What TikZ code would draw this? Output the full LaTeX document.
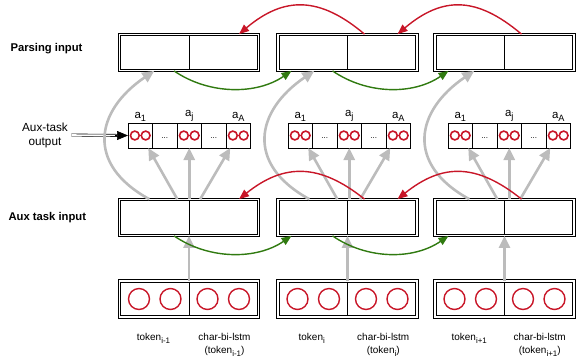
\documentclass[tikz,border=0pt]{standalone}
\usepackage{fontspec}
\setmainfont{Liberation Sans}
\usetikzlibrary{positioning,arrows.meta}

\definecolor{linkred}{RGB}{200,22,40}
\definecolor{linkgreen}{RGB}{48,122,16}
\definecolor{linkgray}{RGB}{188,188,188}

\newcommand\idx[1]{\raisebox{-0.5ex}{\scalebox{0.8}{#1}}}

\tikzset{
  box/.style={draw, double, double distance=1.6bp, line width=0.75bp,
    minimum width=139bp, minimum height=36bp, inner sep=0pt},
  units/.style={box, path picture={
      \draw[linkred, line width=1.4bp]
        ([xshift=-50bp]path picture bounding box.center) circle (10.5bp)
        ([xshift=-18.5bp]path picture bounding box.center) circle (10.5bp)
        ([xshift=18.5bp]path picture bounding box.center) circle (10.5bp)
        ([xshift=50bp]path picture bounding box.center) circle (10.5bp);}},
  cell/.style={draw, line width=0.75bp, minimum width=24.5bp, minimum height=25bp,
    inner sep=0pt, outer sep=0pt, text height=5bp, text depth=0pt,
    font=\fontsize{8}{8}\selectfont},
  pair/.style={cell, path picture={
      \draw[linkred, line width=1.6bp]
        ([xshift=-5.4bp]path picture bounding box.center) circle (4.4bp)
        ([xshift=5.4bp]path picture bounding box.center) circle (4.4bp);}},
  split/.style={line width=0.75bp, shorten <=1.15bp, shorten >=1.15bp},
  head/.style={font=\fontsize{11.3}{13}\selectfont\bfseries, anchor=west},
  note/.style={font=\fontsize{10}{13}\selectfont, align=center, anchor=north},
  sym/.style={font=\fontsize{11.5}{13}\selectfont, inner sep=1bp},
  back/.style={linkred, line width=1.4bp, -{Triangle[length=10bp,width=8bp]}},
  fwd/.style={linkgreen, line width=1.4bp, -{Triangle[length=10bp,width=8bp]}},
  feed/.style={linkgray, line width=2.6bp, -{Triangle[length=12bp,width=11bp]}}
}

\begin{document}
\begin{tikzpicture}[x=1bp, y=-1bp]
  \useasboundingbox (0,0) rectangle (576,358);

  % rows of boxes
  \draw
    (189,52.5) node[box] (p1){}
    (347.5,52.5) node[box] (p2){}
    (504.5,52.5) node[box] (p3){}
    (189,217.5) node[box] (t1){}
    (347.5,217.5) node[box] (t2){}
    (504.5,217.5) node[box] (t3){}
    (189,299) node[units] (b1){}
    (347.5,299) node[units] (b2){}
    (504.5,299) node[units] (b3){};
  \draw[split] (p1.north) -- (p1.south);
  \draw[split] (p2.north) -- (p2.south);
  \draw[split] (p3.north) -- (p3.south);
  \draw[split] (t1.north) -- (t1.south);
  \draw[split] (t2.north) -- (t2.south);
  \draw[split] (t3.north) -- (t3.south);
  \draw[split] (b1.north) -- (b1.south);
  \draw[split] (b2.north) -- (b2.south);
  \draw[split] (b3.north) -- (b3.south);

  % aux-task outputs
  \node[pair] (o1a) at (140.25,135.5) {};
  \node[cell, right=0pt of o1a] (o1b) {...};
  \node[pair, right=0pt of o1b] (o1c) {};
  \node[cell, right=0pt of o1c] (o1d) {...};
  \node[pair, right=0pt of o1d] (o1e) {};
  \node[pair] (o2a) at (300.25,135.5) {};
  \node[cell, right=0pt of o2a] (o2b) {...};
  \node[pair, right=0pt of o2b] (o2c) {};
  \node[cell, right=0pt of o2c] (o2d) {...};
  \node[pair, right=0pt of o2d] (o2e) {};
  \node[pair] (o3a) at (460.25,135.5) {};
  \node[cell, right=0pt of o3a] (o3b) {...};
  \node[pair, right=0pt of o3b] (o3c) {};
  \node[cell, right=0pt of o3c] (o3d) {...};
  \node[pair, right=0pt of o3d] (o3e) {};
  \node[sym, above=0pt of o1a] (n1a) {a\idx{1}};
  \node[sym, above=0pt of o1c] (n1c) {a\idx{j}};
  \node[sym, above=0pt of o1e] (n1e) {a\idx{A}};
  \node[sym, above=0pt of o2a] (n2a) {a\idx{1}};
  \node[sym, above=0pt of o2c] (n2c) {a\idx{j}};
  \node[sym, above=0pt of o2e] (n2e) {a\idx{A}};
  \node[sym, above=0pt of o3a] (n3a) {a\idx{1}};
  \node[sym, above=0pt of o3c] (n3c) {a\idx{j}};
  \node[sym, above=0pt of o3e] (n3e) {a\idx{A}};

  % labels
  \node[head] (parse) at (7,49) {Parsing input};
  \node[head] (auxin) at (5,218) {Aux task input};
  \node[font=\fontsize{11.8}{14}\selectfont, align=center] (auxout) at (45,135) {Aux-task\\output};
  \draw[double, double distance=1.6bp, line width=0.6bp, shorten >=10bp] (auxout.east) -- (o1a.west);
  \draw[line width=0.6bp, -{Triangle[length=11bp,width=9bp]}] ([xshift=-13bp]o1a.west) -- (o1a.west);
  \node[note] (w1) at (153.5,330) {token\idx{i-1}};
  \node[note] (c1) at (224.5,330) {char-bi-lstm\\(token\idx{i-1})};
  \node[note] (w2) at (311.75,330) {token\idx{i}};
  \node[note] (c2) at (383.25,330) {char-bi-lstm\\(token\idx{i})};
  \node[note] (w3) at (469.25,330) {token\idx{i+1}};
  \node[note] (c3) at (539.75,330) {char-bi-lstm\\(token\idx{i+1})};

  % grey feeds
  \begin{scope}[feed]
    \draw (b1.north) -- (t1.south);
    \draw (b2.north) -- (t2.south);
    \draw (b3.north) -- (t3.south);
    \draw ([xshift=-12bp]o1c.south |- t1.north) -- ([xshift=8bp]o1a.south);
    \draw (o1c.south |- t1.north) -- (o1c.south);
    \draw ([xshift=11bp]o1c.south |- t1.north) -- ([xshift=-8bp]o1e.south);
    \draw ([xshift=-12bp]o2c.south |- t2.north) -- ([xshift=8bp]o2a.south);
    \draw (o2c.south |- t2.north) -- (o2c.south);
    \draw ([xshift=11bp]o2c.south |- t2.north) -- ([xshift=-8bp]o2e.south);
    \draw ([xshift=-12bp]o3c.south |- t3.north) -- ([xshift=8bp]o3a.south);
    \draw (o3c.south |- t3.north) -- (o3c.south);
    \draw ([xshift=11bp]o3c.south |- t3.north) -- ([xshift=-8bp]o3e.south);
    \draw ([xshift=-40bp]o1c.south |- t1.north) .. controls +(-64,-35) and +(-59,40) .. ([xshift=-35bp]o1c.south |- p1.south);
    \draw ([xshift=-40bp]o2c.south |- t2.north) .. controls +(-64,-35) and +(-59,40) .. ([xshift=-35bp]o2c.south |- p2.south);
    \draw ([xshift=-40bp]o3c.south |- t3.north) .. controls +(-64,-35) and +(-59,40) .. ([xshift=-35bp]o3c.south |- p3.south);
  \end{scope}

  % backward and forward links
  \draw[back] ([xshift=17bp]p2.north) .. controls +(-45,-38) and +(45,-38) .. ([xshift=50bp]p1.north);
  \draw[back] ([xshift=17bp]p3.north) .. controls +(-45,-38) and +(45,-38) .. ([xshift=50bp]p2.north);
  \draw[back] ([xshift=17bp]t2.north) .. controls +(-45,-36) and +(45,-36) .. ([xshift=50bp]t1.north);
  \draw[back] ([xshift=17bp]t3.north) .. controls +(-45,-36) and +(45,-36) .. ([xshift=50bp]t2.north);
  \draw[fwd] ([xshift=-15bp]p1.south) .. controls +(35,24) and +(-35,24) .. ([xshift=-56bp]p2.south);
  \draw[fwd] ([xshift=-15bp]p2.south) .. controls +(35,24) and +(-35,24) .. ([xshift=-56bp]p3.south);
  \draw[fwd] ([xshift=-15bp]t1.south) .. controls +(35,24) and +(-35,24) .. ([xshift=-56bp]t2.south);
  \draw[fwd] ([xshift=-15bp]t2.south) .. controls +(35,24) and +(-35,24) .. ([xshift=-56bp]t3.south);
\end{tikzpicture}
\end{document}
